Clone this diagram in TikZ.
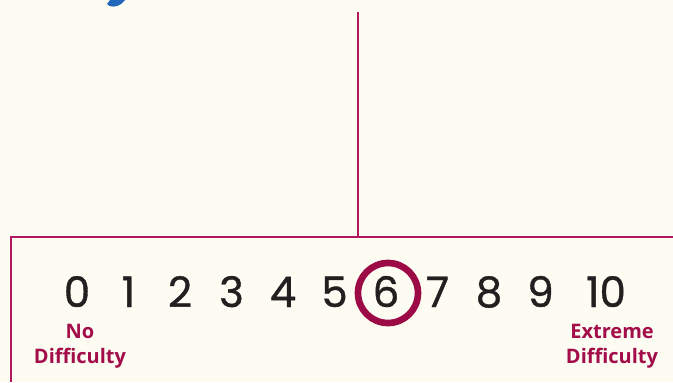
\documentclass[tikz,border=0pt]{standalone}
\usepackage{fontspec}
\usepackage{xcolor}
\usetikzlibrary{positioning}
\newfontfamily\digitfont[FakeBold=0.9]{Poppins}
\newfontfamily\labelfont{Open Sans}
\definecolor{SBack}{HTML}{FCFCF3}
\definecolor{SLine}{HTML}{B0175E}
\definecolor{SRing}{HTML}{9C0B45}
\definecolor{SLabel}{HTML}{A20D4A}
\definecolor{SInk}{HTML}{231F20}
\definecolor{SBlue}{HTML}{2166B8}

\begin{document}
\begin{tikzpicture}[
  x=0.75pt,y=-0.75pt,
  rule/.style={draw=SLine,line width=1.5pt},
  digit/.style={font=\digitfont\fontsize{31.5}{31.5}\selectfont,text=SInk,
    inner sep=0pt,anchor=base},
  lbl/.style={font=\labelfont\bfseries\fontsize{15}{18.75}\selectfont,
    text=SLabel,align=center,inner sep=0pt},
  ring/.style={circle,draw=SRing,line width=5pt,minimum size=45pt,inner sep=0pt}
]
  \fill[SBack] (0,0) rectangle (673,382);
  \useasboundingbox (0,0) rectangle (673,382);
  % tail of the heading above
  \fill[SBlue] (107,4) .. controls (109,7.5) and (117,7.5) .. (121,4)
    -- (125,0) -- (110,0) -- cycle;
  % frame
  \coordinate (top) at (358,12);
  \coordinate (joint) at (358,237);
  \coordinate (lft) at (11,237);
  \coordinate (rgt) at (673,237);
  \coordinate (lbot) at (11,382);
  \draw[rule] (top) -- (joint);
  \draw[rule] (rgt) -- (lft) -- (lbot);
  % scale
  \foreach \i in {0,...,9}
    \node[digit] (d\i) at ({77+51.5*\i},307) {\i};
  \node[digit] (d10) at (606,307) {10};
  \node[ring] (mark) at (388,293) {};
  \node[lbl] (nodiff) at (80,346) {No\\Difficulty};
  \node[lbl] (extdiff) at (612,346) {Extreme\\Difficulty};
\end{tikzpicture}
\end{document}
